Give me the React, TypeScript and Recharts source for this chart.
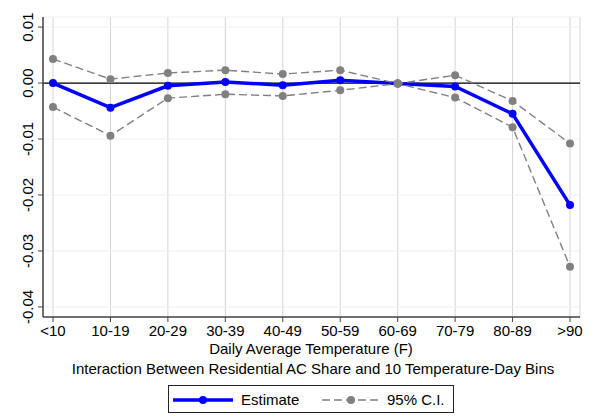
import React from 'react'
import {
  LineChart,
  Line,
  XAxis,
  YAxis,
  CartesianGrid,
  ReferenceLine,
} from 'recharts'

const categories = ['<10', '10-19', '20-29', '30-39', '40-49', '50-59', '60-69', '70-79', '80-89', '>90']
const estimate = [0, -0.0044, -0.0005, 0.0002, -0.0004, 0.0005, -0.0001, -0.0006, -0.0055, -0.0218]
const upperCI = [0.0043, 0.0007, 0.0018, 0.0023, 0.0016, 0.0023, -0.0001, 0.0014, -0.0032, -0.0108]
const lowerCI = [-0.0043, -0.0094, -0.0027, -0.002, -0.0023, -0.0013, -0.0001, -0.0026, -0.0079, -0.0328]
const yTicks = [0.01, 0, -0.01, -0.02, -0.03, -0.04]

const xTitle = 'Daily Average Temperature (F)'
const subTitle = 'Interaction Between Residential AC Share and 10 Temperature-Day Bins'

const FONT = "'Liberation Sans', Arial, sans-serif"
const BLUE = '#0000ff'
const GRAY = '#808080'

const data = categories.map((c, i) => ({
  bin: c,
  est: estimate[i],
  hi: upperCI[i],
  lo: lowerCI[i],
}))

// Stata style rotated y tick labels
const YTick = (props: any) => {
  const { y, payload } = props
  const v = Number(payload.value)
  const label = Math.abs(v) < 1e-9 ? '0.00' : v.toFixed(2)
  const x = 33
  return (
    <text
      x={x}
      y={y}
      transform={`rotate(-90 ${x} ${y})`}
      textAnchor="middle"
      fontSize={15}
      fontFamily={FONT}
      fill="#000"
    >
      {label}
    </text>
  )
}

export default function App() {
  return (
    <div style={{ position: 'absolute', left: 0, top: 0, width: 600, height: 420, background: '#fff', fontFamily: FONT }}>
      <LineChart
        width={600}
        height={420}
        data={data}
        margin={{ top: 17, right: 20, bottom: 0, left: 0 }}
      >
        <CartesianGrid stroke="#d4d4d4" horizontal={false} />
        <CartesianGrid stroke="#efefef" vertical={false} />
        <XAxis
          dataKey="bin"
          height={103}
          interval={0}
          padding={{ left: 10, right: 10 }}
          tickSize={5}
          tickMargin={3}
          tick={{ fontSize: 15, fill: '#000', fontFamily: FONT }}
          axisLine={{ stroke: '#444', strokeWidth: 1.5 }}
          tickLine={{ stroke: '#444' }}
        />
        <YAxis
          width={43}
          type="number"
          domain={[-0.0418, 0.0118]}
          ticks={yTicks}
          interval={0}
          tickSize={5}
          tick={<YTick />}
          axisLine={{ stroke: '#444', strokeWidth: 1.5 }}
          tickLine={{ stroke: '#444' }}
        />
        <ReferenceLine y={0} stroke="#000" strokeWidth={1.3} />
        <Line
          dataKey="est"
          stroke={BLUE}
          strokeWidth={3.5}
          dot={{ r: 4, fill: BLUE, stroke: 'none' }}
          isAnimationActive={false}
        />
        <Line
          dataKey="hi"
          stroke={GRAY}
          strokeWidth={1.4}
          strokeDasharray="8 4"
          dot={{ r: 4, fill: GRAY, stroke: 'none' }}
          isAnimationActive={false}
        />
        <Line
          dataKey="lo"
          stroke={GRAY}
          strokeWidth={1.4}
          strokeDasharray="8 4"
          dot={{ r: 4, fill: GRAY, stroke: 'none' }}
          isAnimationActive={false}
        />
      </LineChart>

      <div style={{ position: 'absolute', left: 0, width: 622, top: 340, textAlign: 'center', fontSize: 15, lineHeight: '18px' }}>
        {xTitle}
      </div>
      <div style={{ position: 'absolute', left: 0, width: 626, top: 360, textAlign: 'center', fontSize: 15, lineHeight: '18px' }}>
        {subTitle}
      </div>

      <svg style={{ position: 'absolute', left: 168, top: 385 }} width={287} height={28}>
        <rect x={0.5} y={0.5} width={285} height={27} fill="#fff" stroke="#222" strokeWidth={1} />
        <line x1={5} y1={15} x2={65} y2={15} stroke={BLUE} strokeWidth={3.5} />
        <circle cx={35} cy={15} r={4} fill={BLUE} />
        <text x={73} y={20} fontSize={15} fontFamily={FONT} fill="#000">Estimate</text>
        <line x1={154} y1={15} x2={212} y2={15} stroke={GRAY} strokeWidth={1.4} strokeDasharray="8 4" />
        <circle cx={183} cy={15} r={4} fill={GRAY} />
        <text x={219} y={20} fontSize={15} fontFamily={FONT} fill="#000">95% C.I.</text>
      </svg>
    </div>
  )
}
